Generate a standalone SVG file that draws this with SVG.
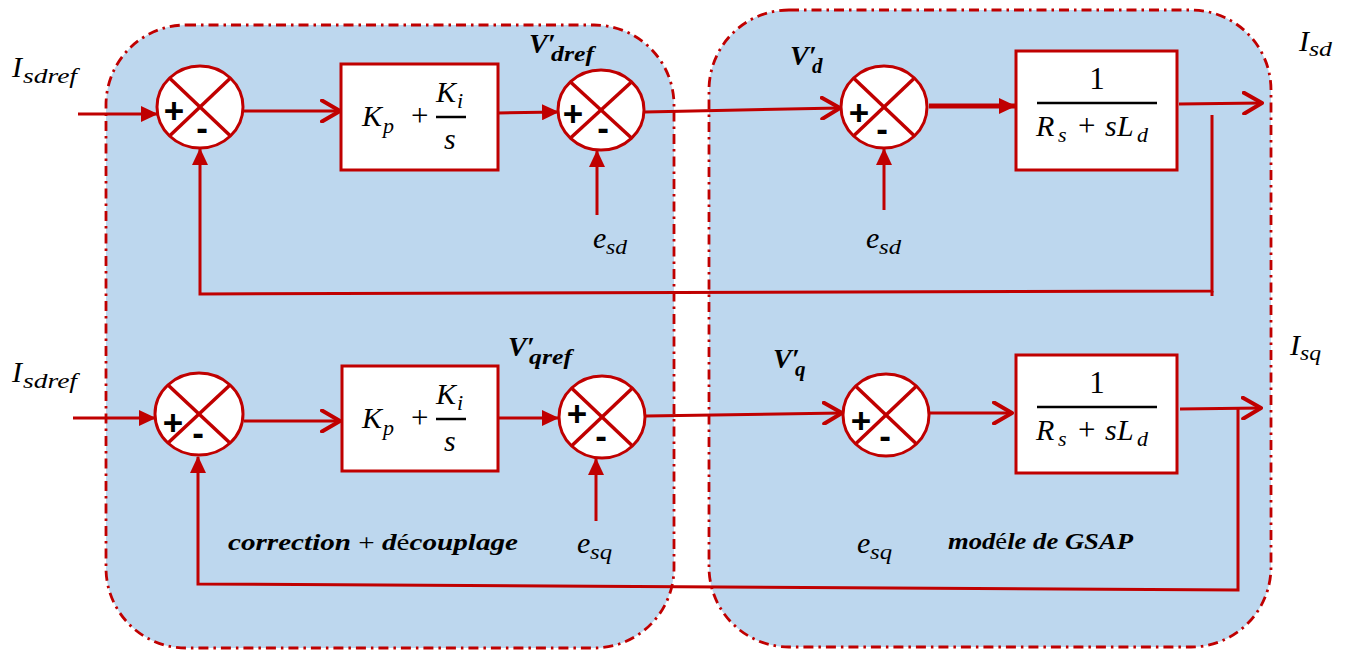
<svg xmlns="http://www.w3.org/2000/svg" width="1346" height="650" viewBox="0 0 1346 650">
<style>
.cont{fill:#BDD7EE;stroke:#C00000;stroke-width:2.8;stroke-dasharray:10 5 2.5 5}
.wire{fill:none;stroke:#C00000;stroke-width:3}
.thick{fill:none;stroke:#C00000;stroke-width:5}
.blk{fill:#FFFFFF;stroke:#C00000;stroke-width:3}
.sum{fill:#FFFFFF;stroke:#C00000;stroke-width:3}
.x{stroke:#C00000;stroke-width:3.5}
.pm{font-family:"Liberation Sans",Arial,sans-serif;font-weight:bold;font-size:35px;fill:#000;text-anchor:middle}
.m{font-family:"Liberation Serif","Times New Roman",serif;font-style:italic;font-size:30px;fill:#000}
.ms{font-family:"Liberation Serif","Times New Roman",serif;font-style:italic;font-size:22px;fill:#000}
.r{font-family:"Liberation Serif","Times New Roman",serif;font-size:31px;fill:#000}
.b{font-family:"Liberation Serif","Times New Roman",serif;font-style:italic;font-weight:bold;font-size:28px;fill:#000}
.bs{font-family:"Liberation Serif","Times New Roman",serif;font-style:italic;font-weight:bold;font-size:21px;fill:#000}
.cap{font-family:"Liberation Serif","Times New Roman",serif;font-style:italic;font-weight:bold;font-size:23px;fill:#000}
.bar{stroke:#000;stroke-width:2.5}
</style>
<defs>
<marker id="fa" viewBox="0 0 17 16" refX="16" refY="8" markerWidth="17" markerHeight="16" markerUnits="userSpaceOnUse" orient="auto"><path d="M0,0 L17,8 L0,16 z" fill="#C00000"/></marker>
<marker id="oa" viewBox="0 0 22 24" refX="20" refY="12" markerWidth="22" markerHeight="24" markerUnits="userSpaceOnUse" orient="auto"><path d="M2,1.5 L20,12 L2,22.5" fill="none" stroke="#C00000" stroke-width="4" stroke-linecap="round" stroke-linejoin="round"/></marker>
</defs>

<g id="containers">
<rect id="correction-region" class="cont" x="106" y="25" width="568" height="623" rx="80" ry="80"/>
<rect id="gsap-region" class="cont" x="709" y="10" width="562" height="637" rx="80" ry="80"/>
</g>

<g id="connectors">
<line class="wire" x1="78" y1="114" x2="157" y2="114" marker-end="url(#fa)"/>
<line class="wire" x1="243" y1="111" x2="340" y2="111" marker-end="url(#oa)"/>
<line class="wire" x1="498" y1="113" x2="558" y2="112" marker-end="url(#fa)"/>
<line class="wire" x1="597" y1="215" x2="597" y2="151" marker-end="url(#fa)"/>
<line class="wire" x1="645" y1="112" x2="840" y2="108" marker-end="url(#oa)"/>
<line class="thick" x1="929" y1="106" x2="1015" y2="106" marker-end="url(#fa)"/>
<line class="wire" x1="884" y1="210" x2="884" y2="149" marker-end="url(#fa)"/>
<line class="wire" x1="1179" y1="104" x2="1262" y2="103" marker-end="url(#oa)"/>
<polyline class="wire" points="1212,115 1212,291 200,294 200,149" marker-end="url(#fa)"/>
<line class="wire" x1="1212" y1="291" x2="1212" y2="296"/>

<line class="wire" x1="73" y1="418" x2="155" y2="418" marker-end="url(#fa)"/>
<line class="wire" x1="244" y1="421" x2="340" y2="421" marker-end="url(#oa)"/>
<line class="wire" x1="498" y1="418" x2="558" y2="418" marker-end="url(#fa)"/>
<line class="wire" x1="596" y1="521" x2="596" y2="459" marker-end="url(#fa)"/>
<line class="wire" x1="646" y1="416" x2="842" y2="413" marker-end="url(#oa)"/>
<line class="wire" x1="930" y1="413" x2="1012" y2="413" marker-end="url(#oa)"/>
<line class="wire" x1="1180" y1="409" x2="1261" y2="408" marker-end="url(#oa)"/>
<polyline class="wire" points="1238,409 1238,590 198,584 198,457" marker-end="url(#fa)"/>
</g>

<g id="sum1">
<ellipse class="sum" cx="200" cy="107" rx="43" ry="41"/>
<line class="x" x1="169.5" y1="78" x2="230.5" y2="136"/>
<line class="x" x1="230.5" y1="78" x2="169.5" y2="136"/>
<text class="pm" x="174" y="123">+</text>
<text class="pm" x="202" y="140">-</text>
</g>
<g id="pi1">
<rect class="blk" x="341" y="64" width="157" height="106"/>
<text class="m" x="362" y="126">K</text><text class="ms" x="383" y="133">p</text>
<text class="r" x="411" y="126">+</text>
<text class="m" x="436" y="102">K</text><text class="ms" x="457" y="108">i</text>
<line class="bar" x1="436" y1="117" x2="466" y2="117"/>
<text class="m" x="444" y="149">s</text>
</g>
<g id="sum2">
<ellipse class="sum" cx="601" cy="110" rx="43" ry="40"/>
<line class="x" x1="570.5" y1="82" x2="631.5" y2="138"/>
<line class="x" x1="631.5" y1="82" x2="570.5" y2="138"/>
<text class="pm" x="573" y="126">+</text>
<text class="pm" x="603" y="140">-</text>
</g>
<g id="sum3">
<ellipse class="sum" cx="884" cy="107" rx="43" ry="41"/>
<line class="x" x1="853.5" y1="78" x2="914.5" y2="136"/>
<line class="x" x1="914.5" y1="78" x2="853.5" y2="136"/>
<text class="pm" x="859" y="125">+</text>
<text class="pm" x="882" y="141">-</text>
</g>
<g id="plant1">
<rect class="blk" x="1016" y="51" width="161" height="119"/>
<text class="r" x="1097" y="89" text-anchor="middle">1</text>
<line class="bar" x1="1037" y1="103" x2="1157" y2="103"/>
<text class="m" x="1036" y="136">R</text><text class="ms" x="1058" y="142">s</text>
<text class="r" x="1078" y="136">+</text>
<text class="m" x="1105" y="136">s</text><text class="m" x="1117" y="136">L</text><text class="ms" x="1137" y="142">d</text>
</g>

<g id="sum4">
<ellipse class="sum" cx="199" cy="414" rx="44" ry="41"/>
<line class="x" x1="168" y1="385" x2="230" y2="443"/>
<line class="x" x1="230" y1="385" x2="168" y2="443"/>
<text class="pm" x="173" y="435">+</text>
<text class="pm" x="198" y="445">-</text>
</g>
<g id="pi2">
<rect class="blk" x="342" y="366" width="156" height="105"/>
<text class="m" x="362" y="428">K</text><text class="ms" x="383" y="435">p</text>
<text class="r" x="411" y="428">+</text>
<text class="m" x="436" y="404">K</text><text class="ms" x="457" y="410">i</text>
<line class="bar" x1="436" y1="419" x2="466" y2="419"/>
<text class="m" x="444" y="451">s</text>
</g>
<g id="sum5">
<ellipse class="sum" cx="602" cy="417" rx="43" ry="41"/>
<line class="x" x1="571.5" y1="388" x2="632.5" y2="446"/>
<line class="x" x1="632.5" y1="388" x2="571.5" y2="446"/>
<text class="pm" x="577" y="426">+</text>
<text class="pm" x="601" y="448">-</text>
</g>
<g id="sum6">
<ellipse class="sum" cx="886" cy="415" rx="43" ry="41"/>
<line class="x" x1="855.5" y1="386" x2="916.5" y2="444"/>
<line class="x" x1="916.5" y1="386" x2="855.5" y2="444"/>
<text class="pm" x="861" y="433">+</text>
<text class="pm" x="885" y="448">-</text>
</g>
<g id="plant2">
<rect class="blk" x="1016" y="355" width="161" height="118"/>
<text class="r" x="1097" y="393" text-anchor="middle">1</text>
<line class="bar" x1="1037" y1="407" x2="1157" y2="407"/>
<text class="m" x="1036" y="440">R</text><text class="ms" x="1058" y="446">s</text>
<text class="r" x="1078" y="440">+</text>
<text class="m" x="1105" y="440">s</text><text class="m" x="1117" y="440">L</text><text class="ms" x="1137" y="446">d</text>
</g>

<g id="labels">
<text class="m" x="12" y="77">I</text><text class="ms" x="23" y="83" textLength="54" lengthAdjust="spacingAndGlyphs">sdref</text>
<text class="m" x="12" y="382">I</text><text class="ms" x="23" y="388" textLength="54" lengthAdjust="spacingAndGlyphs">sdref</text>
<text class="b" x="529" y="53">V′</text><text class="bs" x="551" y="61" textLength="43" lengthAdjust="spacingAndGlyphs">dref</text>
<text class="b" x="508" y="356">V′</text><text class="bs" x="529" y="364" textLength="43" lengthAdjust="spacingAndGlyphs">qref</text>
<text class="b" x="790" y="65">V′</text><text class="bs" x="812" y="73">d</text>
<text class="b" x="773" y="368">V′</text><text class="bs" x="795" y="376">q</text>
<text class="m" x="593" y="248">e</text><text class="ms" x="606" y="254" textLength="21" lengthAdjust="spacingAndGlyphs">sd</text>
<text class="m" x="866" y="248">e</text><text class="ms" x="879" y="254" textLength="22" lengthAdjust="spacingAndGlyphs">sd</text>
<text class="m" x="577" y="553">e</text><text class="ms" x="590" y="559" textLength="22" lengthAdjust="spacingAndGlyphs">sq</text>
<text class="m" x="857" y="553">e</text><text class="ms" x="870" y="559" textLength="22" lengthAdjust="spacingAndGlyphs">sq</text>
<text class="m" x="1299" y="51">I</text><text class="ms" x="1309" y="56" textLength="23" lengthAdjust="spacingAndGlyphs">sd</text>
<text class="m" x="1290" y="355">I</text><text class="ms" x="1300" y="360" textLength="21" lengthAdjust="spacingAndGlyphs">sq</text>
<text class="cap" x="228" y="550" textLength="290" lengthAdjust="spacingAndGlyphs">correction <tspan font-weight="normal" font-style="normal">+</tspan> d<tspan font-weight="normal" font-style="normal">é</tspan>couplage</text>
<text class="cap" x="948" y="549" textLength="185" lengthAdjust="spacingAndGlyphs">mod<tspan font-weight="normal" font-style="normal">é</tspan>le de GSAP</text>
</g>
</svg>
